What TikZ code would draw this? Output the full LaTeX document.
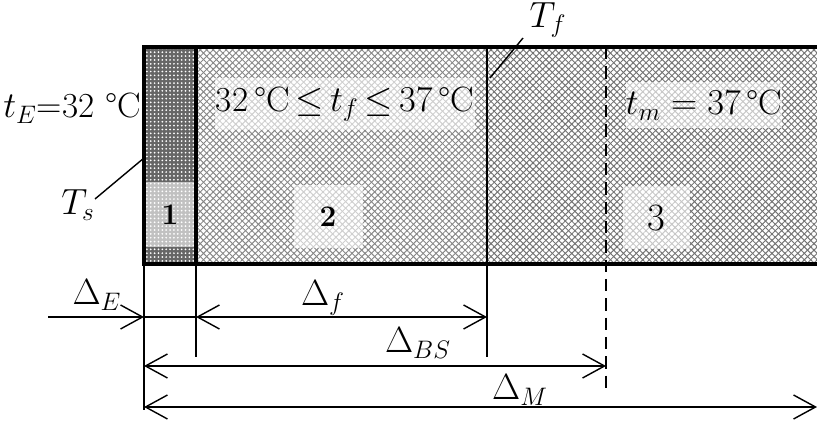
\documentclass[tikz,border=0pt]{standalone}
\usepackage{fontspec}
\usetikzlibrary{arrows.meta,patterns.meta,positioning}

\tikzset{
    barb/.tip = {Straight Barb[length=4.4mm,width=4.8mm,line width=.8pt]},
    dimline/.style  = {line width=.8pt, barb-barb},
    extline/.style  = {line width=.8pt},
    border/.style   = {line width=1.8pt},
    lbl/.style      = {inner sep=0pt, font=\fontsize{22}{24}\selectfont},
    tmp/.style      = {inner sep=0pt, font=\fontsize{20}{23}\selectfont},
    zonebox/.style  = {fill=white, fill opacity=.6, text opacity=1, inner sep=0pt},
    hatchA/.style   = {pattern={Lines[angle=45,distance=2.6pt,line width=.55pt]}, pattern color=black!55},
    hatchB/.style   = {pattern={Lines[angle=-45,distance=2.6pt,line width=.55pt]}, pattern color=black!55},
}

\begin{document}
\begin{tikzpicture}[x=0.02cm, y=-0.02cm]
    \useasboundingbox (0,0) rectangle (817,431);

    % layer boundaries
    \coordinate (tl)  at (144,47);   \coordinate (bl)  at (144,264);
    \coordinate (t1)  at (196,47);   \coordinate (b1)  at (196,264);
    \coordinate (t2)  at (487,47);   \coordinate (b2)  at (487,264);
    \coordinate (t3)  at (606,47);   \coordinate (b3)  at (606,264);
    \coordinate (tr)  at (817,47);   \coordinate (br)  at (817,264);

    % fills
    \fill[black!60] (tl) rectangle (b1);
    \fill[pattern={Dots[distance=2.2pt,radius=.55pt]}, pattern color=white] (tl) rectangle (b1);
    \fill[hatchA] (t1) rectangle (br);
    \fill[hatchB] (t1) rectangle (br);
    \fill[white, opacity=.15] (t1) rectangle (b2);

    % zone labels
    \node[zonebox, minimum width=53*0.02cm, minimum height=65*0.02cm] (z1) at (170,215) {\fontsize{17}{18}\selectfont\bfseries 1};
    \node[zonebox, minimum width=69*0.02cm, minimum height=63*0.02cm] (z2) at (328,217) {\fontsize{17}{18}\selectfont\bfseries 2};
    \node[zonebox, minimum width=67*0.02cm, minimum height=63*0.02cm] (z3) at (656,218) {\fontsize{22}{24}\selectfont 3};
    \node[zonebox, tmp, minimum width=260*0.02cm, minimum height=52*0.02cm] (tf) at (345,104)
        {32\,°C$\,{\le}\,t_{f}\,{\le}\,37$\,°C};
    \node[zonebox, tmp, minimum width=152*0.02cm, minimum height=46*0.02cm] (tm) at (704,105)
        {$t_{m}=37$\,°C};

    % borders
    \draw[border] (tr) -- (tl) -- (bl) -- (br);
    \draw[border] (t1) -- (b1);
    \draw[line width=1.2pt] (t2) -- (b2);
    \draw[line width=.9pt, dash pattern=on 7pt off 4pt] (t3) -- (606,390);

    % extension lines
    \draw[extline] (bl) -- (144,410);
    \draw[extline] (b1) -- (196,357);
    \draw[extline] (b2) -- (487,357);

    % outside labels
    \node[tmp] (tE) at (72,108) {$t_E$=32 °C};
    \node[tmp, font=\fontsize{21}{24}\selectfont] (Ts) at (78,205) {$T_{s}$};
    \node[tmp, font=\fontsize{21}{24}\selectfont] (Tf) at (548,20)  {$T_{f}$};
    \draw[extline] (95,199) -- (144,158);
    \draw[extline] (490,78) -- (523,38);

    % dimensions
    \coordinate (eS) at (48,317);
    \coordinate (e0) at (144,317);
    \coordinate (e1) at (196,317);
    \coordinate (e2) at (487,317);
    \coordinate (s0) at (144,366);
    \coordinate (s3) at (606,366);
    \coordinate (m0) at (144,407);
    \coordinate (m4) at (817,407);
    \draw[line width=.8pt, -barb] (eS) -- (e0);
    \draw[extline] (e0) -- (e1);
    \draw[dimline] (e1) -- (e2);
    \draw[dimline] (s0) -- (s3);
    \draw[dimline] (m0) -- (m4);

    \node[lbl] (dE)  at (97,295)  {$\Delta_{E}$};
    \node[lbl] (df)  at (323,298) {$\Delta_{f}$};
    \node[lbl] (dBS) at (418,343) {$\Delta_{BS}$};
    \node[lbl] (dM)  at (520,390) {$\Delta_{M}$};
\end{tikzpicture}
\end{document}
